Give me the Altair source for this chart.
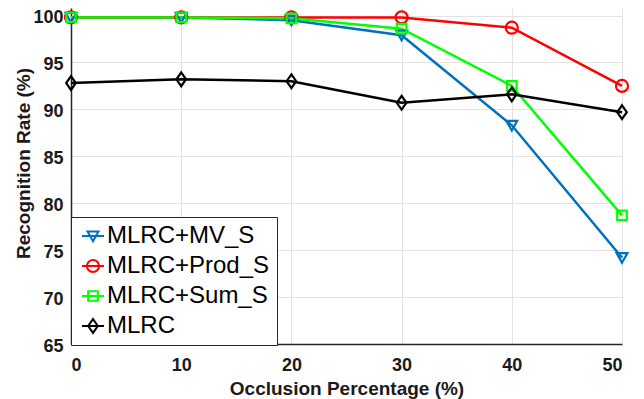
import altair as alt
import pandas as pd

occlusion = [0, 10, 20, 30, 40, 50]
series_names = ["MLRC+MV_S", "MLRC+Prod_S", "MLRC+Sum_S", "MLRC"]
mv_s = [99.8, 99.8, 99.5, 97.9, 88.3, 74.2]
prod_s = [99.8, 99.8, 99.8, 99.8, 98.7, 92.5]
sum_s = [99.8, 99.8, 99.7, 98.6, 92.5, 78.7]
mlrc = [92.8, 93.2, 93.0, 90.7, 91.6, 89.7]
colors = ["#0072BD", "#FF0000", "#00FF00", "#000000"]

# marker paths (unit coords) for data points
marker_paths = [
    "M-0.9,-0.75L0.9,-0.75L0,0.85Z",
    "M1,0A1,1,0,1,1,-1,0A1,1,0,1,1,1,0Z",
    "M-0.8,-0.8L0.8,-0.8L0.8,0.8L-0.8,0.8Z",
    "M0,-1.15L0.8,0L0,1.15L-0.8,0Z",
]
# legend symbols: line + marker
legend_paths = [
    "M-1,0L1,0M-0.5,-0.41L0.5,-0.41L0,0.47Z",
    "M-1,0L1,0M0.55,0A0.55,0.55,0,1,1,-0.55,0A0.55,0.55,0,1,1,0.55,0Z",
    "M-1,0L1,0M-0.44,-0.44L0.44,-0.44L0.44,0.44L-0.44,0.44Z",
    "M-1,0L1,0M0,-0.63L0.44,0L0,0.63L-0.44,0Z",
]

rows = []
for name, vals in zip(series_names, [mv_s, prod_s, sum_s, mlrc]):
    for xv, yv in zip(occlusion, vals):
        rows.append({"x": xv, "y": yv, "series": name})
df = pd.DataFrame(rows)

x_enc = alt.X("x:Q", scale=alt.Scale(domain=[0, 50], nice=False, zero=False),
              axis=alt.Axis(values=occlusion, title="Occlusion Percentage (%)",
                            titleX=275.5, titleY=50, titleAlign="center",
                            titleBaseline="alphabetic", labelPadding=12))
y_enc = alt.Y("y:Q", scale=alt.Scale(domain=[65, 100.8], nice=False, zero=False),
              axis=alt.Axis(values=[65, 70, 75, 80, 85, 90, 95, 100],
                            title="Recognition Rate (%)", titleAngle=270,
                            titleX=-42, titleY=155, titleAlign="center",
                            titleBaseline="alphabetic", labelPadding=8,
                            labelOffset=2))
color_scale = alt.Scale(domain=series_names, range=colors)

base = alt.Chart(df)

lines = base.mark_line(strokeWidth=2.5).encode(
    x=x_enc, y=y_enc,
    color=alt.Color("series:N", scale=color_scale),
    detail="series:N",
)

point_layers = []
for name, mp in zip(series_names, marker_paths):
    point_layers.append(
        base.transform_filter(alt.datum.series == name)
        .mark_point(filled=False, strokeWidth=2.2, size=144, shape=mp, opacity=1)
        .encode(x="x:Q", y="y:Q", color=alt.Color("series:N", scale=color_scale))
    )

legend_layer = base.mark_point(filled=False, opacity=0).encode(
    x="x:Q", y="y:Q",
    color=alt.Color("series:N", scale=color_scale,
                    legend=alt.Legend(title=None, symbolOpacity=1)),
    shape=alt.Shape("series:N", scale=alt.Scale(domain=series_names, range=legend_paths),
                    legend=alt.Legend(title=None, symbolOpacity=1)),
)

chart = alt.layer(lines, *point_layers, legend_layer).properties(
    width=551, height=336,
    padding={"left": 63, "top": 0, "right": 14, "bottom": 55},
    autosize=alt.AutoSizeParams(type="none"),
    background="white",
).configure_view(
    stroke=None,
).configure_axis(
    labelFont="Liberation Sans", labelFontSize=18, labelFontWeight="bold",
    labelColor="#1a1a1a",
    titleFont="Liberation Sans", titleFontSize=19, titleFontWeight="bold",
    titleColor="#1a1a1a",
    domainColor="#262626", domainWidth=1.5,
    gridColor="#e3e3e3", gridWidth=1,
    tickSize=0,
).configure_axisY(
    labelBaseline="middle",
).configure_legend(
    orient="none", legendX=0, legendY=209,
    padding=7, strokeColor="#262626", fillColor="white",
    labelFont="Liberation Sans", labelFontSize=24, labelColor="#000000",
    labelLimit=400,
    symbolSize=484, symbolStrokeWidth=2, symbolOffset=3, labelOffset=2,
    rowPadding=6, symbolOpacity=1, cornerRadius=0,
)

chart.save("out.html", embed_options={"renderer": "svg", "actions": False})
